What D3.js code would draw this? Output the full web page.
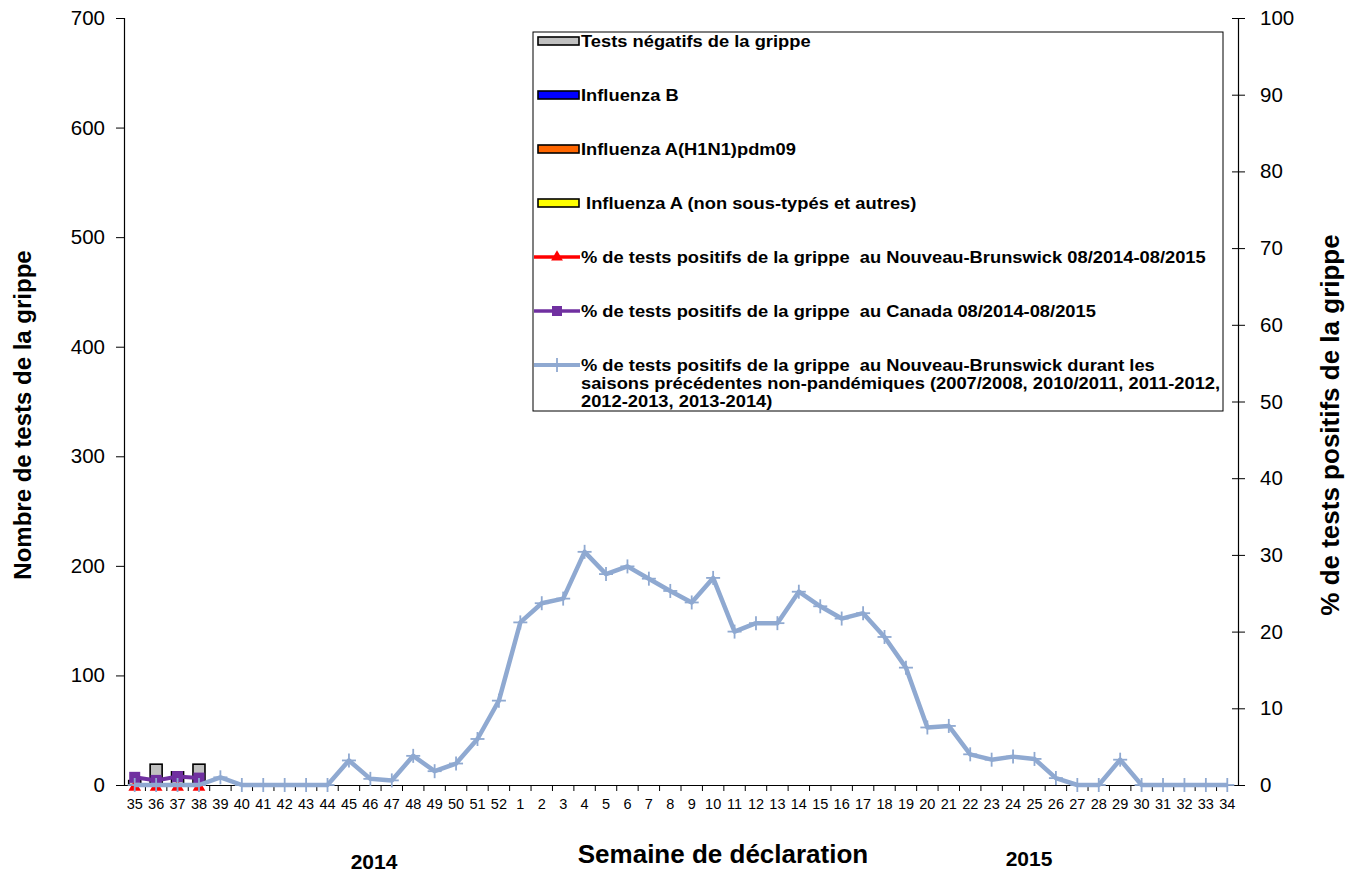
<!DOCTYPE html>
<html><head><meta charset="utf-8">
<script src="https://cdn.jsdelivr.net/npm/d3@7"></script>
<style>
html,body{margin:0;padding:0;background:#fff;}
text{font-family:"Liberation Sans",Arial,sans-serif;}
</style></head>
<body>
<svg id="c" width="1346" height="873"></svg>
<script>
const weeks = ["35","36","37","38","39","40","41","42","43","44","45","46","47","48","49","50","51","52",
"1","2","3","4","5","6","7","8","9","10","11","12","13","14","15","16","17","18","19","20","21","22","23","24","25","26","27","28","29","30","31","32","33","34"];
const negTests = [4,19,12,19];
const fluB = [0,0,0,0];
const fluH1N1 = [0,0,0,0];
const fluA = [0,0,0,0];
const nbPct = [0,0,0,0];
const canadaPct = [1.0,0.6,1.1,0.9];
const histPct = [0,0,0,0,1.0,0,0,0,0,0,3.2,0.8,0.6,3.8,1.8,2.8,6.0,11.0,
21.2,23.7,24.3,30.4,27.5,28.5,26.9,25.3,23.8,27.0,20.0,21.1,21.1,25.2,23.3,21.7,22.4,19.3,15.3,7.5,7.7,4.0,3.3,3.7,3.4,0.9,0,0,3.3,0,0,0,0,0];
const leftTicks = [0,100,200,300,400,500,600,700];
const rightTicks = [0,10,20,30,40,50,60,70,80,90,100];

const svg = d3.select("#c");
const L = 124, R = 1238, T = 18, B = 785;
const x = d3.scaleBand().domain(weeks).range([L, R]).paddingInner(0).paddingOuter(0);
const yL = d3.scaleLinear().domain([0,700]).range([B, T]);
const yR = d3.scaleLinear().domain([0,100]).range([B, T]);

// bars (stacked)
const barColors = {neg:"#C0C0C0", b:"#0000FF", h1:"#FF6600", a:"#FFFF00"};
const rows = negTests.map((v,i)=>({week:weeks[i], neg:v, b:fluB[i], h1:fluH1N1[i], a:fluA[i]}));
const stacked = d3.stack().keys(["a","h1","b","neg"])(rows);
const bw = x.bandwidth()*0.56;
stacked.forEach(layer=>{
  svg.append("g").selectAll("rect").data(layer.filter(d=>d[1]-d[0]>0)).join("rect")
    .attr("x", d=>x(d.data.week)+x.bandwidth()/2-bw/2)
    .attr("width", bw)
    .attr("y", d=>yL(d[1]))
    .attr("height", d=>yL(d[0])-yL(d[1]))
    .attr("fill", barColors[layer.key])
    .attr("stroke","#000").attr("stroke-width",1.6);
});

// axes
const axL = svg.append("g").attr("transform",`translate(${L},0)`)
  .call(d3.axisLeft(yL).tickValues(leftTicks).tickSize(8).tickPadding(11));
axL.selectAll("text").attr("font-size","20.5px").attr("fill","#000");
const axR = svg.append("g").attr("transform",`translate(${R},0)`)
  .call(d3.axisRight(yR).tickValues(rightTicks).tickSize(7).tickPadding(15));
axR.selectAll(".tick line").attr("x1",-6);
axR.selectAll("text").attr("font-size","20.5px").attr("fill","#000");
const axB = svg.append("g").attr("transform",`translate(0,${B})`)
  .call(d3.axisBottom(x).tickSize(0).tickPadding(14));
axB.selectAll("text").attr("font-size","14.5px").attr("fill","#000");
// boundary ticks
svg.append("g").selectAll("line").data(weeks.slice(1)).join("line")
  .attr("x1",d=>x(d)).attr("x2",d=>x(d)).attr("y1",B).attr("y2",B+6)
  .attr("stroke","#000").attr("stroke-width",1);
svg.selectAll(".domain").attr("stroke","#000").attr("stroke-width",1.2);
axL.selectAll(".tick line").attr("stroke","#000");
axR.selectAll(".tick line").attr("stroke","#000");

// lines
const line = d3.line().x((d,i)=>x(weeks[i])+x.bandwidth()/2).y(d=>yR(d));
// red NB
svg.append("path").datum(nbPct).attr("d",line).attr("fill","none").attr("stroke","#FF0000").attr("stroke-width",3);
const tri = d3.symbol().type(d3.symbolTriangle).size(70);
svg.append("g").selectAll("path").data(nbPct).join("path")
  .attr("d",tri).attr("transform",(d,i)=>`translate(${x(weeks[i])+x.bandwidth()/2},${yR(d)+2})`).attr("fill","#FF0000");
// purple Canada
svg.append("path").datum(canadaPct).attr("d",line).attr("fill","none").attr("stroke","#7030A0").attr("stroke-width",4);
svg.append("g").selectAll("rect").data(canadaPct).join("rect")
  .attr("x",(d,i)=>x(weeks[i])+x.bandwidth()/2-5.5).attr("y",d=>yR(d)-5.5).attr("width",11).attr("height",11).attr("fill","#7030A0");
// historic
const histColor = "#8FA9D1";
svg.append("path").datum(histPct).attr("d",line).attr("fill","none").attr("stroke",histColor).attr("stroke-width",4.5).attr("stroke-linejoin","round");
const cross = svg.append("g");
histPct.forEach((d,i)=>{
  const cx = x(weeks[i])+x.bandwidth()/2, cy = yR(d);
  cross.append("line").attr("x1",cx-7).attr("x2",cx+7).attr("y1",cy).attr("y2",cy).attr("stroke",histColor).attr("stroke-width",1.8);
  cross.append("line").attr("x1",cx).attr("x2",cx).attr("y1",cy-7).attr("y2",cy+7).attr("stroke",histColor).attr("stroke-width",1.8);
});

// titles
svg.append("text").attr("transform","translate(31,415) rotate(-90)").attr("text-anchor","middle")
  .attr("font-size","24px").attr("font-weight","bold").text("Nombre de tests de la grippe");
svg.append("text").attr("transform","translate(1339,425) rotate(-90)").attr("text-anchor","middle")
  .attr("font-size","26px").attr("font-weight","bold").text("% de tests positifs de la grippe");
svg.append("text").attr("x",723).attr("y",863).attr("text-anchor","middle")
  .attr("font-size","26px").attr("font-weight","bold").text("Semaine de déclaration");
svg.append("text").attr("x",374).attr("y",869).attr("text-anchor","middle")
  .attr("font-size","21px").attr("font-weight","bold").text("2014");
svg.append("text").attr("x",1029).attr("y",866).attr("text-anchor","middle")
  .attr("font-size","21px").attr("font-weight","bold").text("2015");

// legend
const lg = svg.append("g");
lg.append("rect").attr("x",533).attr("y",32).attr("width",690).attr("height",379).attr("fill","#fff").attr("stroke","#000").attr("stroke-width",1);
const legendItems = [
  {type:"rect", color:"#C0C0C0", y:41, lines:["Tests négatifs de la grippe"]},
  {type:"rect", color:"#0000FF", y:95, lines:["Influenza B"]},
  {type:"rect", color:"#FF6600", y:149, lines:["Influenza A(H1N1)pdm09"]},
  {type:"rect", color:"#FFFF00", y:203, lines:[" Influenza A (non sous-typés et autres)"]},
  {type:"tri", color:"#FF0000", y:257, lines:["% de tests positifs de la grippe  au Nouveau-Brunswick 08/2014-08/2015"]},
  {type:"sq", color:"#7030A0", y:311, lines:["% de tests positifs de la grippe  au Canada 08/2014-08/2015"]},
  {type:"cross", color:histColor, y:365, lines:["% de tests positifs de la grippe  au Nouveau-Brunswick durant les","saisons précédentes non-pandémiques (2007/2008, 2010/2011, 2011-2012,","2012-2013, 2013-2014)"]}
];
legendItems.forEach(it=>{
  if(it.type==="rect"){
    lg.append("rect").attr("x",538).attr("y",it.y-4).attr("width",41).attr("height",8).attr("fill",it.color).attr("stroke","#000").attr("stroke-width",1.6);
  } else {
    lg.append("line").attr("x1",534).attr("x2",580).attr("y1",it.y).attr("y2",it.y).attr("stroke",it.color).attr("stroke-width",it.type==="cross"?4:3.5);
    if(it.type==="tri") lg.append("path").attr("d",d3.symbol().type(d3.symbolTriangle).size(60)).attr("transform",`translate(557,${it.y})`).attr("fill",it.color);
    if(it.type==="sq") lg.append("rect").attr("x",552).attr("y",it.y-5).attr("width",10).attr("height",10).attr("fill",it.color);
    if(it.type==="cross"){
      lg.append("line").attr("x1",557).attr("x2",557).attr("y1",it.y-7).attr("y2",it.y+7).attr("stroke",it.color).attr("stroke-width",1.8);
    }
  }
  it.lines.forEach((t,j)=>{
    lg.append("text").attr("transform",`translate(581,${it.y+5.5+j*18}) scale(1.145,1)`)
      .attr("font-size","16px").attr("font-weight","bold").style("white-space","pre").text(t);
  });
});
</script>
</body></html>
